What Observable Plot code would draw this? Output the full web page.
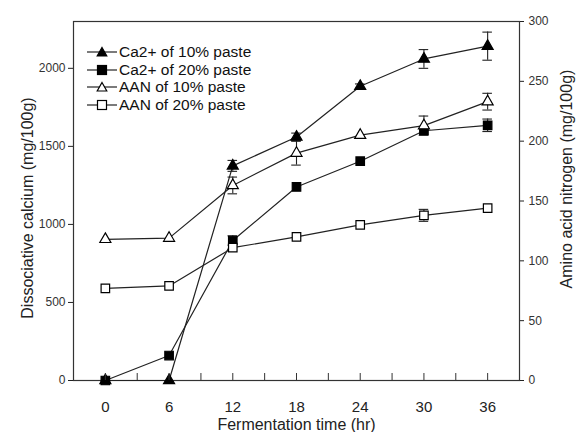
<!DOCTYPE html>
<html>
<head>
<meta charset="utf-8">
<script src="https://cdn.jsdelivr.net/npm/d3@7"></script>
<script src="https://cdn.jsdelivr.net/npm/@observablehq/plot@0.6"></script>
<style>
  html, body { margin: 0; padding: 0; background: #fff; }
  #wrap { position: relative; width: 576px; height: 432px; font-family: "Liberation Sans", Arial, sans-serif; }
  #legend { position: absolute; left: 86px; top: 43px; font-size: 15.5px; color: #111; line-height: 17.7px; }
  #legend .row { display: flex; align-items: center; height: 17.7px; }
  #legend svg { margin-right: 1px; }
</style>
</head>
<body>
<div id="wrap"></div>
<script>
// ---- data ----
const hours = [0, 6, 12, 18, 24, 30, 36];
const ca10 = [0, 0, 1375, 1560, 1885, 2060, 2142];
const ca20 = [0, 160, 897, 1240, 1405, 1600, 1635];
const aan10 = [118, 119, 163, 190, 205, 213, 233];
const aan20 = [77, 79, 111, 120, 130, 138, 144];
const ca10Err = [0, 0, 35, 25, 15, 60, 90];
const ca20Err = [0, 0, 30, 0, 0, 0, 40];
const aan10Err = [0, 0, 7, 10, 0, 8, 7];
const aan20Err = [0, 0, 0, 0, 0, 5, 0];
const seriesNames = ["Ca2+ of 10% paste", "Ca2+ of 20% paste", "AAN of 10% paste", "AAN of 20% paste"];
const leftTicks = [0, 500, 1000, 1500, 2000];
const rightTicks = [0, 50, 100, 150, 200, 250, 300];
const xLabelTicks = [0, 6, 12, 18, 24, 30, 36];
const xMinorTicks = [0, 3, 6, 9, 12, 15, 18, 21, 24, 27, 30, 33, 36];

const leftMax = 2300, rightMax = 300;
const k = leftMax / rightMax; // right axis values mapped to the left scale

const series = [
  {name: seriesNames[0], vals: ca10, err: ca10Err, scale: 1, symbol: "triangle", fill: "black"},
  {name: seriesNames[1], vals: ca20, err: ca20Err, scale: 1, symbol: "square", fill: "black"},
  {name: seriesNames[2], vals: aan10, err: aan10Err, scale: k, symbol: "triangle", fill: "white"},
  {name: seriesNames[3], vals: aan20, err: aan20Err, scale: k, symbol: "square", fill: "white"}
];

const rows = series.flatMap(s => hours.map((h, i) => ({
  series: s.name, x: h, y: s.vals[i] * s.scale,
  lo: (s.vals[i] - s.err[i]) * s.scale, hi: (s.vals[i] + s.err[i]) * s.scale,
  hasErr: s.err[i] > 0, symbol: s.symbol, fill: s.fill
})));
const errRows = rows.filter(d => d.hasErr);

const font = "Liberation Sans, Arial, sans-serif";

const marks = [
  Plot.frame({stroke: "#333", strokeWidth: 1.2}),
  // lines
  ...series.map(s => Plot.line(rows.filter(d => d.series === s.name), {x: "x", y: "y", stroke: "#222", strokeWidth: 1.2})),
  // error bars
  Plot.ruleX(errRows, {x: "x", y1: "lo", y2: "hi", stroke: "#222", strokeWidth: 1.1}),
  Plot.ruleY(errRows, {y: "lo", x1: d => d.x - 0.45, x2: d => d.x + 0.45, stroke: "#222", strokeWidth: 1.1}),
  Plot.ruleY(errRows, {y: "hi", x1: d => d.x - 0.45, x2: d => d.x + 0.45, stroke: "#222", strokeWidth: 1.1}),
  // markers
  ...series.map(s => Plot.dot(rows.filter(d => d.series === s.name), {
    x: "x", y: "y", symbol: () => s.symbol, r: s.symbol === "triangle" ? 4.1 : 4.8,
    fill: s.fill, stroke: "black", strokeWidth: 1.2
  })),
  // bottom inward ticks
  Plot.ruleX(xMinorTicks, {x: d => d, insetTop: 352, stroke: "#333"}),
  // axes
  Plot.axisX({ticks: xLabelTicks, tickSize: 0, tickPadding: 21, fontSize: 15, label: null, fill: "#222"}),
  Plot.axisY({ticks: leftTicks, tickFormat: d3.format("d"), tickSize: 5, tickPadding: 3, fontSize: 12, label: null, anchor: "left", fill: "#333"}),
  Plot.axisY({anchor: "right", ticks: rightTicks.map(v => v * k), tickFormat: d => String(Math.round(d / k)),
    tickSize: 4, tickPadding: 5, fontSize: 12, label: null, fill: "#333"}),
  // axis titles
  Plot.text(["Dissociative calcium (mg/100g)"], {frameAnchor: "left", textAnchor: "middle", lineAnchor: "middle", rotate: -90, dx: -46, dy: 7, fontSize: 16, fill: "#222"}),
  Plot.text(["Amino acid nitrogen (mg/100g)"], {frameAnchor: "right", textAnchor: "middle", lineAnchor: "middle", rotate: -90, dx: 47, dy: -22, fontSize: 16, fill: "#222"}),
  Plot.text(["Fermentation time (hr)"], {frameAnchor: "bottom", textAnchor: "middle", lineAnchor: "middle", dy: 44, fontSize: 16, fill: "#222"})
];

const chart = Plot.plot({
  width: 576, height: 432,
  marginLeft: 73, marginRight: 57, marginTop: 21, marginBottom: 52,
  style: {fontFamily: font, background: "white", color: "#222"},
  x: {domain: [-3, 39]},
  y: {domain: [0, leftMax]},
  marks
});

const wrap = document.getElementById("wrap");
wrap.appendChild(chart);

// legend
const legend = document.createElement("div");
legend.id = "legend";
series.forEach(s => {
  const row = document.createElement("div");
  row.className = "row";
  const sym = s.symbol === "triangle"
    ? `<path d="M16,3.5 L20.8,12 L11.2,12 Z" fill="${s.fill}" stroke="black" stroke-width="1.2"/>`
    : `<rect x="11.5" y="3.5" width="9" height="9" fill="${s.fill}" stroke="black" stroke-width="1.2"/>`;
  row.innerHTML = `<svg width="32" height="16"><line x1="1" x2="31" y1="8" y2="8" stroke="#222" stroke-width="1.2"/>${sym}</svg><span>${s.name}</span>`;
  legend.appendChild(row);
});
wrap.appendChild(legend);
</script>
</body>
</html>
